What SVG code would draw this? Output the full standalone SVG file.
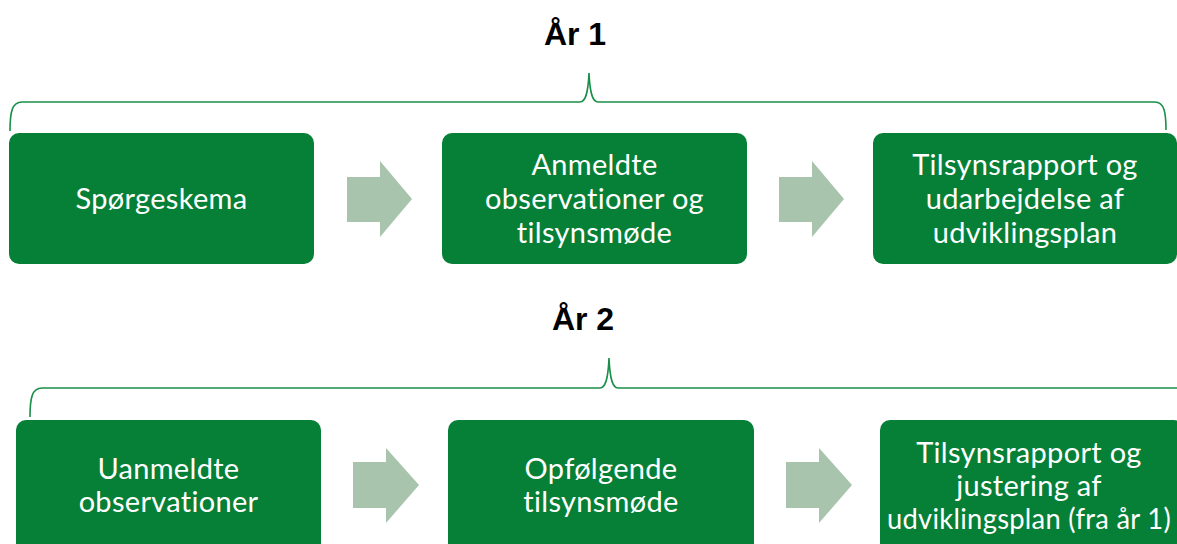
<svg xmlns="http://www.w3.org/2000/svg" width="1177" height="544" viewBox="0 0 1177 544">
<style>
.box{fill:#068037;}
.arrow{fill:#A9C4AD;}
.brace{fill:none;stroke:#1a8f48;stroke-width:1.6;}
.lbl{font-family:Lato,"Open Sans",sans-serif;font-size:29px;fill:#ffffff;text-anchor:middle;font-variant-ligatures:none;font-feature-settings:"liga" 0;letter-spacing:0.3px;}
.title{font-family:"Liberation Sans",Arial,sans-serif;font-size:32px;font-weight:bold;fill:#000000;text-anchor:middle;}
</style>
<rect width="1177" height="544" fill="#ffffff"/>
<text class="title" x="575" y="45">År 1</text>
<text class="title" x="583" y="330">År 2</text>
<g id="connectors">
<path class="brace" d="M10,131 C10,112 12,102 22,102 L580,102 C585,102 588,95 589,73 C590,95 593,102 598,102 L1155,102 C1164,102 1166,112 1166,130"/>
<path class="brace" d="M30,417 C30,398 32,388 42,388 L600,388 C605,388 608,381 609,358 C610,381 613,388 618,388 L1180,388"/>
<polygon class="arrow" points="347,177 380,177 380,161 412,199 380,237 380,222 347,222"/>
<polygon class="arrow" points="779,177 812,177 812,161 844,199 812,237 812,222 779,222"/>
<polygon class="arrow" points="353,462 386,462 386,448 419,485 386,523 386,508 353,508"/>
<polygon class="arrow" points="786,462 819,462 819,448 852,485 819,523 819,508 786,508"/>
</g>
<g id="n1">
<rect class="box" x="9" y="133" width="305" height="131" rx="10"/>
<text class="lbl" x="161.5" y="209">Spørgeskema</text>
</g>
<g id="n2">
<rect class="box" x="442" y="133" width="305" height="131" rx="10"/>
<text class="lbl" x="594.5" y="175">Anmeldte</text>
<text class="lbl" x="594.5" y="209">observationer og</text>
<text class="lbl" x="594.5" y="243">tilsynsmøde</text>
</g>
<g id="n3">
<rect class="box" x="873" y="133" width="304" height="131" rx="10"/>
<text class="lbl" x="1025" y="175">Tilsynsrapport og</text>
<text class="lbl" x="1025" y="209">udarbejdelse af</text>
<text class="lbl" x="1025" y="243">udviklingsplan</text>
</g>
<g id="n4">
<rect class="box" x="16" y="420" width="305" height="140" rx="10"/>
<text class="lbl" x="168.5" y="479">Uanmeldte</text>
<text class="lbl" x="168.5" y="512">observationer</text>
</g>
<g id="n5">
<rect class="box" x="448" y="420" width="306" height="140" rx="10"/>
<text class="lbl" x="601" y="479">Opfølgende</text>
<text class="lbl" x="601" y="512">tilsynsmøde</text>
</g>
<g id="n6">
<rect class="box" x="880" y="420" width="304" height="140" rx="10"/>
<text class="lbl" x="1029" y="463">Tilsynsrapport og</text>
<text class="lbl" x="1029" y="496">justering af</text>
<text class="lbl" x="1029" y="529" textLength="284" lengthAdjust="spacingAndGlyphs">udviklingsplan (fra år 1)</text>
</g>
</svg>
